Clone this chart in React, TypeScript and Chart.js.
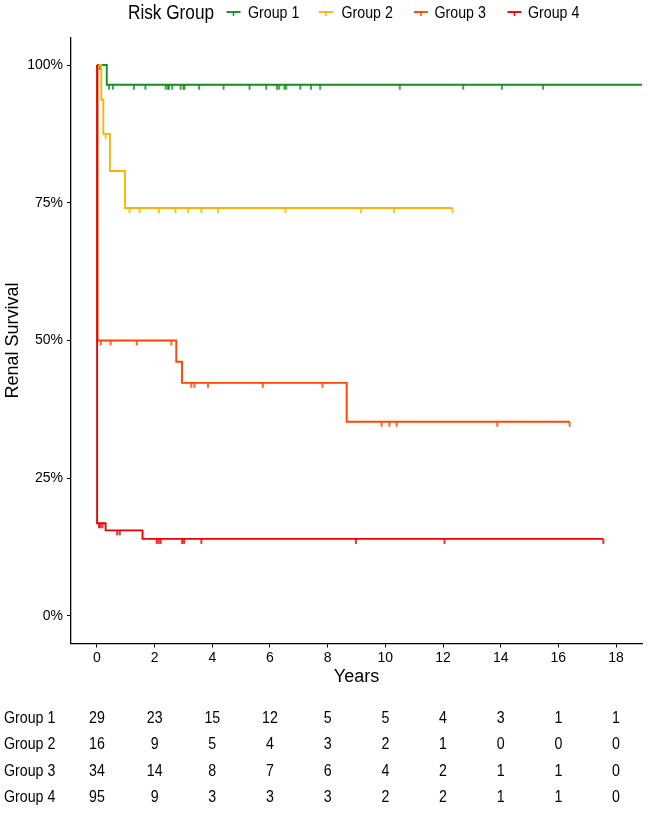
import React, { useEffect, useRef } from "react";
import { Chart, registerables } from "chart.js";

Chart.register(...registerables);

const FONT = "Arial, 'Liberation Sans', Helvetica, sans-serif";

const groupNames = ["Group 1", "Group 2", "Group 3", "Group 4"];
const groupColors = ["#12901A", "#FFB300", "#FF4500", "#EE0000"];

// Kaplan-Meier step points (time in years, survival after that time)
const g1Times = [0, 0.34, 19.5];
const g1Surv = [1, 0.9643, 0.9643];
const g1Censor = [0.1, 0.42, 0.55, 1.28, 1.68, 2.38, 2.46, 2.5, 2.61, 2.9, 3.0, 3.03, 3.54, 4.39, 5.29, 5.87, 6.24, 6.32, 6.5, 6.56, 7.05, 7.42, 7.74, 10.5, 12.7, 14.04, 15.47];

const g2Times = [0, 0.15, 0.22, 0.45, 0.97, 12.33];
const g2Surv = [1, 0.9375, 0.875, 0.8077, 0.7404, 0.7404];
const g2Censor = [0.3, 1.13, 1.48, 2.15, 2.72, 3.16, 3.62, 4.2, 6.54, 9.15, 10.3, 12.33];

const g3Times = [0, 0.02, 2.75, 2.95, 8.66, 16.39];
const g3Surv = [1, 0.5, 0.4615, 0.4231, 0.3526, 0.3526];
const g3Censor = [0.13, 0.47, 1.38, 2.58, 3.27, 3.38, 3.85, 5.75, 7.82, 9.87, 10.14, 10.39, 13.88, 16.39];

const g4Times = [0, 0.005, 0.3, 1.58, 17.56];
const g4Surv = [1, 0.1684, 0.1554, 0.1399, 0.1399];
const g4Censor = [0.07, 0.12, 0.19, 0.7, 0.79, 2.07, 2.14, 2.21, 2.95, 3.02, 3.62, 8.98, 12.05, 17.56];

const xTickValues = [0, 2, 4, 6, 8, 10, 12, 14, 16, 18];
const yTickValues = [0, 0.25, 0.5, 0.75, 1];

// Number at risk at each x tick
const g1Risk = [29, 23, 15, 12, 5, 5, 4, 3, 1, 1];
const g2Risk = [16, 9, 5, 4, 3, 2, 1, 0, 0, 0];
const g3Risk = [34, 14, 8, 7, 6, 4, 2, 1, 1, 0];
const g4Risk = [95, 9, 3, 3, 3, 2, 2, 1, 1, 0];

function survAt(times: number[], surv: number[], t: number) {
  let s = surv[0];
  for (let k = 0; k < times.length; k++) if (times[k] <= t) s = surv[k];
  return s;
}

function makeTick(color: string) {
  const c = document.createElement("canvas");
  c.width = 4;
  c.height = 12;
  const ctx = c.getContext("2d")!;
  ctx.fillStyle = color;
  ctx.fillRect(1.2, 6, 1.6, 5);
  return c;
}

// text drawn slightly condensed (taller than wide), as in the reference
function condensedText(ctx: CanvasRenderingContext2D, text: string, x: number, y: number, size: number, align: CanvasTextAlign) {
  const sx = 0.86;
  ctx.save();
  ctx.translate(x, y);
  ctx.scale(sx, 1);
  ctx.font = `${size}px ${FONT}`;
  ctx.textAlign = align;
  ctx.textBaseline = "middle";
  ctx.fillText(text, 0, 0);
  ctx.restore();
}

export default function App() {
  const ref = useRef<HTMLCanvasElement>(null);

  useEffect(() => {
    document.body.style.margin = "0";
    const canvas = ref.current!;
    const groups = [
      { times: g1Times, surv: g1Surv, censor: g1Censor, risk: g1Risk },
      { times: g2Times, surv: g2Surv, censor: g2Censor, risk: g2Risk },
      { times: g3Times, surv: g3Surv, censor: g3Censor, risk: g3Risk },
      { times: g4Times, surv: g4Surv, censor: g4Censor, risk: g4Risk },
    ];

    const datasets: any[] = [];
    groups.forEach((g, i) => {
      datasets.push({
        type: "line",
        label: groupNames[i],
        data: g.times.map((t, k) => ({ x: t, y: g.surv[k] })),
        stepped: "before",
        borderColor: groupColors[i],
        borderWidth: 1.9,
        pointRadius: 0,
        fill: false,
        order: (4 - i) * 2 + 1,
      });
      datasets.push({
        type: "scatter",
        label: groupNames[i] + " censored",
        data: g.censor.map((t) => ({ x: t, y: survAt(g.times, g.surv, t) })),
        pointStyle: makeTick(groupColors[i]),
        pointRadius: 5,
        showLine: false,
        order: (4 - i) * 2,
      });
    });

    const legendSymbolX = [233.5, 326, 421, 514.5];
    const legendLabelX = [248, 341.5, 434.5, 528];
    const tableRowY = [718, 744.5, 771, 797.5];

    const overlay = {
      id: "overlay",
      afterDraw(chart: any) {
        const ctx = chart.ctx;
        ctx.save();
        ctx.fillStyle = "#000";
        // Legend
        condensedText(ctx, "Risk Group", 128, 13, 20, "left");
        groupNames.forEach((name, i) => {
          const cx = legendSymbolX[i];
          ctx.strokeStyle = groupColors[i];
          ctx.lineWidth = 1.9;
          ctx.beginPath();
          ctx.moveTo(cx - 7, 12);
          ctx.lineTo(cx + 7, 12);
          ctx.stroke();
          ctx.lineWidth = 1.5;
          ctx.beginPath();
          ctx.moveTo(cx, 12);
          ctx.lineTo(cx, 16);
          ctx.stroke();
          ctx.fillStyle = "#000";
          condensedText(ctx, name, legendLabelX[i], 13, 16.5, "left");
        });
        // Risk table
        const xs = chart.scales.x;
        groups.forEach((g, i) => {
          const y = tableRowY[i];
          condensedText(ctx, groupNames[i], 4, y, 16.5, "left");
          g.risk.forEach((n, j) => {
            condensedText(ctx, String(n), xs.getPixelForValue(xTickValues[j]), y, 16.5, "center");
          });
        });
        ctx.restore();
      },
    };

    const chart = new Chart(canvas, {
      type: "line",
      data: { datasets },
      options: {
        responsive: false,
        animation: false,
        devicePixelRatio: 1,
        layout: { padding: { top: 37.5, right: 5, left: 0, bottom: 115 } },
        plugins: { legend: { display: false }, tooltip: { enabled: false } },
        scales: {
          x: {
            type: "linear",
            min: -0.9,
            max: 18.9,
            afterBuildTicks: (s: any) => {
              s.ticks = xTickValues.map((v) => ({ value: v }));
            },
            afterFit: (s: any) => {
              s.height = 56.5;
            },
            grid: { drawOnChartArea: false, drawTicks: true, tickLength: 4, color: "#000", lineWidth: 1 },
            border: { display: true, color: "#000", width: 1.3 },
            ticks: { font: { family: FONT, size: 14 }, color: "#000", padding: 2, maxRotation: 0, autoSkip: false },
            title: { display: true, text: "Years", font: { family: FONT, size: 18 }, color: "#000", padding: { top: 0, bottom: 12 } },
          },
          y: {
            type: "linear",
            min: -0.05,
            max: 1.05,
            afterBuildTicks: (s: any) => {
              s.ticks = yTickValues.map((v) => ({ value: v }));
            },
            afterFit: (s: any) => {
              s.width = 71;
            },
            grid: { drawOnChartArea: false, drawTicks: true, tickLength: 4, color: "#000", lineWidth: 1 },
            border: { display: true, color: "#000", width: 1.3 },
            ticks: {
              font: { family: FONT, size: 14 },
              color: "#000",
              padding: 4,
              callback: (v: any) => Math.round(Number(v) * 100) + "%",
            },
            title: { display: true, text: "Renal Survival", font: { family: FONT, size: 18 }, color: "#000", padding: { top: 2, bottom: 0 } },
          },
        },
      },
      plugins: [overlay],
    } as any);

    return () => chart.destroy();
  }, []);

  return <canvas ref={ref} width={648} height={815} style={{ display: "block" }} />;
}
